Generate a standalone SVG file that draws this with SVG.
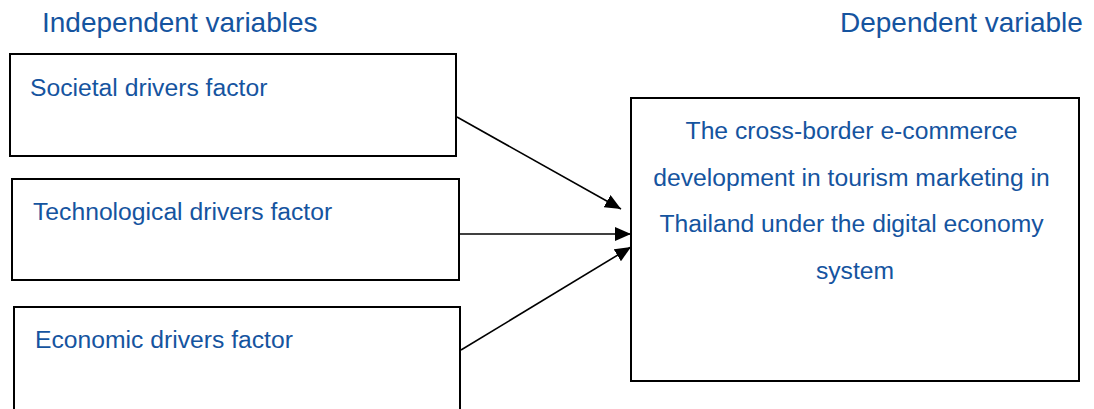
<svg xmlns="http://www.w3.org/2000/svg" width="1094" height="409" viewBox="0 0 1094 409">
  <style>
    .box { fill: #ffffff; stroke: #000000; stroke-width: 2; }
    .hdr { font-family: "Liberation Sans", Arial, sans-serif; font-size: 28px; fill: #15549F; }
    .lbl { font-family: "Liberation Sans", Arial, sans-serif; font-size: 24.7px; fill: #15549F; }
    .edge { stroke: #000000; stroke-width: 1.6; fill: none; marker-end: url(#arrow); }
  </style>
  <defs>
    <marker id="arrow" markerUnits="userSpaceOnUse" markerWidth="16" markerHeight="14" refX="16" refY="7" orient="auto">
      <path d="M0,0 L16,7 L0,14 Z" fill="#000000"/>
    </marker>
  </defs>
  <rect width="1094" height="409" fill="#ffffff"/>

  <g id="headers">
    <text class="hdr" x="42" y="32">Independent variables</text>
    <text class="hdr" x="840" y="32">Dependent variable</text>
  </g>

  <g id="societal">
    <rect class="box" x="10" y="54" width="446" height="102"/>
    <text class="lbl" x="30" y="96">Societal drivers factor</text>
  </g>

  <g id="technological">
    <rect class="box" x="12" y="179" width="447" height="101"/>
    <text class="lbl" x="33" y="220">Technological drivers factor</text>
  </g>

  <g id="economic">
    <rect class="box" x="14" y="307" width="446" height="110"/>
    <text class="lbl" x="35" y="348">Economic drivers factor</text>
  </g>

  <g id="outcome">
    <rect class="box" x="631" y="98" width="448" height="283"/>
    <text class="lbl" text-anchor="middle">
      <tspan x="855" y="139">The cross-border e-commerce</tspan>
      <tspan x="855" y="185.5">development in tourism marketing in</tspan>
      <tspan x="855" y="232">Thailand under the digital economy</tspan>
      <tspan x="855" y="278.5">system</tspan>
    </text>
  </g>

  <g id="connectors">
    <line class="edge" x1="457" y1="117" x2="621" y2="209"/>
    <line class="edge" x1="459" y1="234" x2="631" y2="234"/>
    <line class="edge" x1="461" y1="350" x2="631" y2="247"/>
  </g>
</svg>
